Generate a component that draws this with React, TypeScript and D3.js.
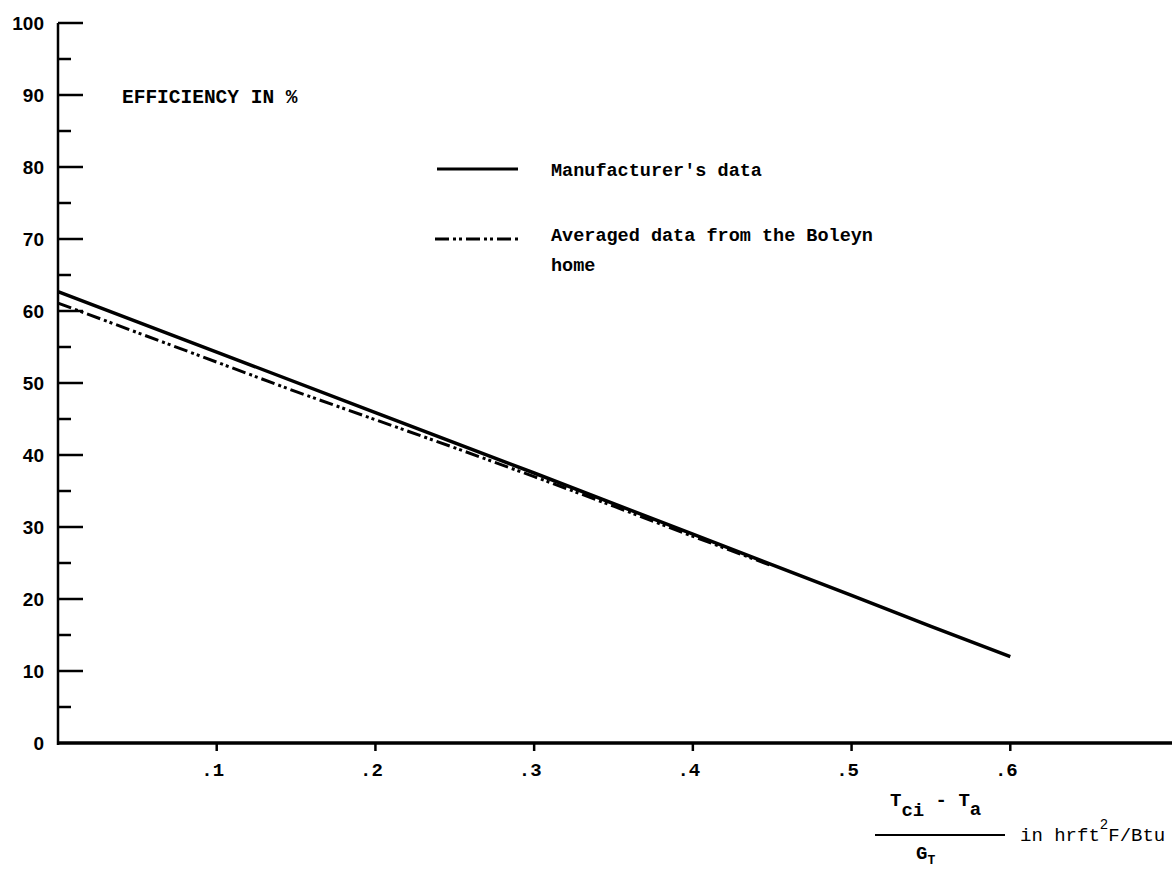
import React, { useEffect, useRef } from "react";
import * as d3 from "d3";

// x = (Tci - Ta) / GT, y = efficiency in %
const manufacturerX = [0, 0.1, 0.2, 0.3, 0.4, 0.5, 0.55, 0.6];
const manufacturerY = [62.7, 54.3, 45.9, 37.5, 29.0, 20.5, 16.2, 12.0];

const boleynX = [0, 0.05, 0.1, 0.15, 0.2, 0.25, 0.3, 0.35, 0.4, 0.45];
const boleynY = [61.1, 57.0, 52.9, 48.8, 44.9, 41.0, 37.0, 32.9, 28.7, 24.6];

const yMajorTicks = [0, 10, 20, 30, 40, 50, 60, 70, 80, 90, 100];
const yMinorTicks = [5, 15, 25, 35, 45, 55, 65, 75, 85, 95];
const xTicks = [0.1, 0.2, 0.3, 0.4, 0.5, 0.6];
const xTickLabels = [".1", ".2", ".3", ".4", ".5", ".6"];

const legendLabels = ["Manufacturer's data", "Averaged data from the Boleyn", "home"];

const W = 1172;
const H = 869;
const mono = "'Liberation Mono', 'DejaVu Sans Mono', monospace";
const sans = "'Liberation Sans', Arial, sans-serif";
const dashDot = "14,4,3,3,3,4";

const App = () => {
  const svgRef = useRef<SVGSVGElement>(null);

  useEffect(() => {
    const svg = d3.select(svgRef.current);
    svg.selectAll("*").remove();

    const x = d3.scaleLinear().domain([0, 0.7]).range([58, 1169]);
    const y = d3.scaleLinear().domain([0, 100]).range([743, 23]);

    svg.append("rect").attr("width", W).attr("height", H).attr("fill", "#fff");

    // axes
    svg.append("line")
      .attr("x1", x(0)).attr("x2", x(0))
      .attr("y1", y(100)).attr("y2", y(0) + 2)
      .attr("stroke", "#000").attr("stroke-width", 2.5);
    svg.append("line")
      .attr("x1", x(0) - 1).attr("x2", W)
      .attr("y1", y(0)).attr("y2", y(0))
      .attr("stroke", "#000").attr("stroke-width", 3.5);

    svg.selectAll(".ymaj")
      .data(yMajorTicks.filter(d => d > 0))
      .enter().append("line")
      .attr("x1", x(0)).attr("x2", x(0) + 25)
      .attr("y1", d => y(d)).attr("y2", d => y(d))
      .attr("stroke", "#000").attr("stroke-width", 2.5);

    svg.selectAll(".ymin")
      .data(yMinorTicks)
      .enter().append("line")
      .attr("x1", x(0)).attr("x2", x(0) + 13)
      .attr("y1", d => y(d)).attr("y2", d => y(d))
      .attr("stroke", "#000").attr("stroke-width", 2.5);

    svg.selectAll(".ylab")
      .data(yMajorTicks)
      .enter().append("text")
      .attr("x", 44)
      .attr("y", d => y(d) + 7)
      .attr("text-anchor", "end")
      .style("font-family", sans)
      .style("font-weight", "bold")
      .style("font-size", "19px")
      .text(d => String(d));

    svg.selectAll(".xtick")
      .data(xTicks)
      .enter().append("line")
      .attr("x1", d => x(d)).attr("x2", d => x(d))
      .attr("y1", y(0)).attr("y2", y(0) + 8)
      .attr("stroke", "#000").attr("stroke-width", 2.5);

    svg.selectAll(".xlab")
      .data(xTicks)
      .enter().append("text")
      .attr("x", d => x(d) - 4)
      .attr("y", y(0) + 33)
      .attr("text-anchor", "middle")
      .style("font-family", mono)
      .style("font-weight", "bold")
      .style("font-size", "19px")
      .text((d, i) => xTickLabels[i]);

    // series
    const line = d3.line<[number, number]>()
      .x(d => x(d[0]))
      .y(d => y(d[1]));

    svg.append("path")
      .datum(boleynX.map((v, i) => [v, boleynY[i]] as [number, number]))
      .attr("d", line)
      .attr("fill", "none")
      .attr("stroke", "#000")
      .attr("stroke-width", 3)
      .attr("stroke-dasharray", dashDot);

    svg.append("path")
      .datum(manufacturerX.map((v, i) => [v, manufacturerY[i]] as [number, number]))
      .attr("d", line)
      .attr("fill", "none")
      .attr("stroke", "#000")
      .attr("stroke-width", 3.5);

    // title
    svg.append("text")
      .attr("x", 122).attr("y", 103)
      .style("font-family", mono)
      .style("font-weight", "bold")
      .style("font-size", "19.5px")
      .text("EFFICIENCY IN %");

    // legend
    svg.append("line")
      .attr("x1", 437).attr("x2", 518).attr("y1", 169).attr("y2", 169)
      .attr("stroke", "#000").attr("stroke-width", 3);
    svg.append("line")
      .attr("x1", 435).attr("x2", 521).attr("y1", 239).attr("y2", 239)
      .attr("stroke", "#000").attr("stroke-width", 3)
      .attr("stroke-dasharray", dashDot);

    const legendY = [176, 241, 271];
    svg.selectAll(".leg")
      .data(legendLabels)
      .enter().append("text")
      .attr("x", 551)
      .attr("y", (d, i) => legendY[i])
      .style("font-family", mono)
      .style("font-weight", "bold")
      .style("font-size", "18.5px")
      .text(d => d);

    // x axis label as a fraction
    const lab = svg.append("g")
      .style("font-family", mono)
      .style("font-size", "19px")
      .style("font-weight", "bold");

    const num = lab.append("text").attr("x", 890).attr("y", 806);
    num.append("tspan").text("T");
    num.append("tspan").attr("dy", 10).text("ci");
    num.append("tspan").attr("dy", -10).text(" - T");
    num.append("tspan").attr("dy", 9).text("a");

    lab.append("line")
      .attr("x1", 875).attr("x2", 1005).attr("y1", 835).attr("y2", 835)
      .attr("stroke", "#000").attr("stroke-width", 2);

    const den = lab.append("text").attr("x", 916).attr("y", 859);
    den.append("tspan").text("G");
    den.append("tspan").attr("dy", 5).style("font-size", "13px").text("T");

    const unit = lab.append("text").attr("x", 1020).attr("y", 841)
      .style("font-weight", "normal");
    unit.append("tspan").text("in hrft");
    unit.append("tspan").attr("dy", -12).style("font-size", "14px").text("2");
    unit.append("tspan").attr("dy", 12).text("F/Btu");
  }, []);

  return (
    <svg
      ref={svgRef}
      width={W}
      height={H}
      style={{ position: "absolute", left: 0, top: 0, display: "block" }}
    />
  );
};

export default App;
